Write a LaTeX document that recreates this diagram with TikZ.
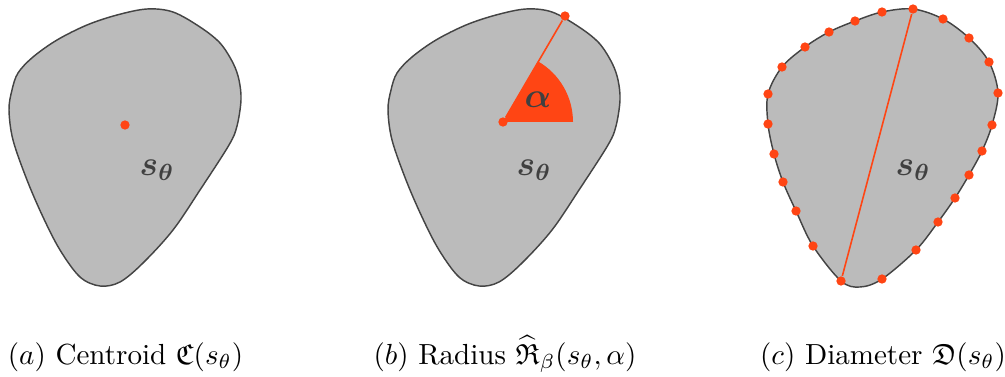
\documentclass[tikz,border=0pt]{standalone}
\usepackage{amsmath,amssymb}
\definecolor{ored}{RGB}{255,69,20}
\definecolor{shapegray}{RGB}{187,187,187}
\definecolor{edgegray}{RGB}{68,68,68}
\definecolor{labgray}{RGB}{64,64,64}
\begin{document}
\begin{tikzpicture}[x=0.344pt,y=-0.344pt,
  blob/.style={fill=shapegray,draw=edgegray,line width=0.5pt},
  dot/.style={circle,fill=ored,inner sep=0pt,minimum size=3.2pt},
  redline/.style={draw=ored,line width=0.55pt},
  slabel/.style={text=labgray,font=\large\boldmath},
  caption/.style={anchor=base,font=\normalsize}]
\useasboundingbox (0,0) rectangle (1005,377);
\def\blobA{plot[smooth cycle,tension=0.55] coordinates{(147,9) (173,12) (200,27) (220,43) (233,63) (239,80) (241,100) (237,126) (229,145) (200,190) (173,230) (143,263) (120,282) (100,286) (80,277) (60,250) (43,217) (27,180) (13,140) (9,110) (12,90) (18,73) (33,57) (57,40) (87,25) (117,15)}}
% (a)
\path[blob] \blobA;
\node[dot] (ca) at (125,125) {};
\node[slabel] (sa) at (157,170) {$s_\theta$};
% (b)
\begin{scope}[shift={(379,0)}]
\path[blob] \blobA;
\end{scope}
\fill[ored] (503,122) -- ++(70,0) arc[start angle=0,end angle=-60,radius=70] -- cycle;
\node[dot] (cb) at (503,122) {};
\node[dot] (pb) at (565,16) {};
\draw[redline] (cb) -- (pb);
\node[slabel] (al) at (538,100) {$\alpha$};
\node[slabel] (sb) at (534,170) {$s_\theta$};
% (c)
\path[blob] plot[smooth cycle,tension=0.55] coordinates{(913,9) (943,19) (969,38) (989,62) (998,93) (992,125) (982,151) (969,175) (955,198) (938,222) (916,250) (882,279) (860,287) (841,281) (813,246) (796,211) (783,182) (774,154) (768,124) (768,94) (782,67) (805,47) (829,32) (855,21) (882,12)};
\foreach \i/\p in {1/{(913,9)},2/{(943,19)},3/{(969,38)},4/{(989,62)},5/{(998,93)},6/{(992,125)},7/{(982,151)},8/{(969,175)},9/{(955,198)},10/{(938,222)},11/{(916,250)},12/{(882,279)},13/{(841,281)},14/{(813,246)},15/{(796,211)},16/{(783,182)},17/{(774,154)},18/{(768,124)},19/{(768,94)},20/{(782,67)},21/{(805,47)},22/{(829,32)},23/{(855,21)},24/{(882,12)}}
  \node[dot] (d\i) at \p {};
\draw[redline] (d1) -- (d13);
\node[slabel] (sc) at (913,170) {$s_\theta$};
% captions
\node[caption] (capa) at (125.5,364) {$(a)$ Centroid $\mathfrak{C}(s_\theta)$};
\node[caption] (capb) at (505,364) {$(b)$ Radius $\widehat{\mathfrak{R}}_\beta(s_\theta,\alpha)$};
\node[caption] (capc) at (883,364) {$(c)$ Diameter $\mathfrak{D}(s_\theta)$};
\end{tikzpicture}
\end{document}
